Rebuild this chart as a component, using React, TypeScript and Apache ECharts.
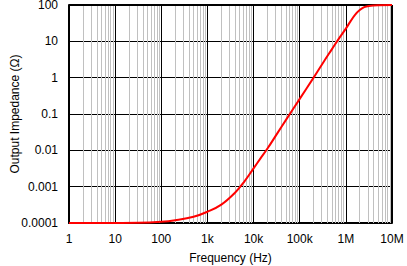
import React, { useEffect, useRef } from "react";
import * as echarts from "echarts";

const freqs = [1, 10, 31.6, 100, 200, 500, 1000, 2000, 4000, 6300, 10000, 14000, 20000, 31600, 50000, 100000, 200000, 316000, 500000, 700000, 1000000, 1260000, 1580000, 2000000, 2500000, 3160000, 5000000, 10000000];
const impedance = [0.0001, 0.0001, 0.000101, 0.000108, 0.000119, 0.000148, 0.000204, 0.00032, 0.00069, 0.00138, 0.0032, 0.0059, 0.0112, 0.0275, 0.068, 0.26, 1.0, 2.5, 6.1, 11.7, 22.4, 35.5, 53.7, 72.4, 87, 94.5, 99, 100];
const xTickLabels: Record<string, string> = { "1": "1", "10": "10", "100": "100", "1000": "1k", "10000": "10k", "100000": "100k", "1000000": "1M", "10000000": "10M" };
const yTickLabels: Record<string, string> = { "0.0001": "0.0001", "0.001": "0.001", "0.01": "0.01", "0.1": "0.1", "1": "1", "10": "10", "100": "100" };
const decades = [1, 10, 100, 1000, 10000, 100000, 1000000];
const minorMultipliers = [2, 3, 4, 5, 6, 7, 8, 9];

function labelFor(map: Record<string, string>, v: number): string {
  const key = String(Number(v.toPrecision(6)));
  return map[key] ?? "";
}

export default function App() {
  const ref = useRef<HTMLDivElement>(null);
  useEffect(() => {
    if (!ref.current) return;
    const chart = echarts.init(ref.current, null, { renderer: "svg" });
    const minorLines: any[] = [];
    decades.forEach((d) => minorMultipliers.forEach((m) => minorLines.push({ xAxis: d * m })));
    const font = "Liberation Sans, Arial, Helvetica, sans-serif";
    chart.setOption({
      animation: false,
      backgroundColor: "#fff",
      grid: { left: 69, top: 5, width: 323, height: 218, show: false, containLabel: false, outerBoundsMode: "none" },
      xAxis: {
        type: "log",
        logBase: 10,
        min: 1,
        max: 10000000,
        splitNumber: 7,
        name: "Frequency (Hz)",
        nameLocation: "middle",
        nameGap: 29,
        nameMoveOverlap: false,
        nameTextStyle: { fontFamily: font, fontSize: 12, color: "#000" },
        axisLine: { show: true, onZero: false, lineStyle: { color: "#000", width: 2 } },
        axisTick: { show: false },
        axisLabel: { margin: 10, fontFamily: font, fontSize: 12, color: "#000", formatter: (v: number) => labelFor(xTickLabels, v) },
        splitLine: { show: true, lineStyle: { color: "#000", width: 1 } },
      },
      yAxis: {
        type: "log",
        logBase: 10,
        min: 0.0001,
        max: 100,
        splitNumber: 6,
        name: "Output Impedance (Ω)",
        nameLocation: "middle",
        nameGap: 48,
        nameMoveOverlap: false,
        nameTextStyle: { fontFamily: font, fontSize: 12, color: "#000" },
        axisLine: { show: true, onZero: false, lineStyle: { color: "#000", width: 2 } },
        axisTick: { show: false },
        axisLabel: { margin: 11, fontFamily: font, fontSize: 12, lineHeight: 10, color: "#000", formatter: (v: number) => labelFor(yTickLabels, v) },
        splitLine: { show: true, lineStyle: { color: "#000", width: 1 } },
      },
      series: [
        {
          type: "line",
          name: "minor",
          data: [[1, 0.0001]],
          showSymbol: false,
          lineStyle: { opacity: 0 },
          silent: true,
          z: 1,
          markLine: {
            silent: true,
            symbol: ["none", "none"],
            label: { show: false },
            lineStyle: { color: "#c0c0c0", width: 1, type: "solid" },
            data: minorLines,
          },
        },
        {
          type: "line",
          name: "frame",
          data: [[1, 0.0001]],
          showSymbol: false,
          lineStyle: { opacity: 0 },
          silent: true,
          z: 2,
          markLine: {
            silent: true,
            symbol: ["none", "none"],
            label: { show: false },
            lineStyle: { color: "#000", width: 2, type: "solid" },
            data: [{ xAxis: 10000000 }, { yAxis: 100 }],
          },
        },
        {
          type: "line",
          name: "Output Impedance",
          data: freqs.map((f, i) => [f, impedance[i]]),
          showSymbol: false,
          smooth: 0.4,
          lineStyle: { color: "#ff0000", width: 2 },
          z: 5,
        },
      ],
    });
    return () => chart.dispose();
  }, []);
  return <div ref={ref} style={{ position: "fixed", left: 0, top: 0, width: 407, height: 266 }} />;
}
